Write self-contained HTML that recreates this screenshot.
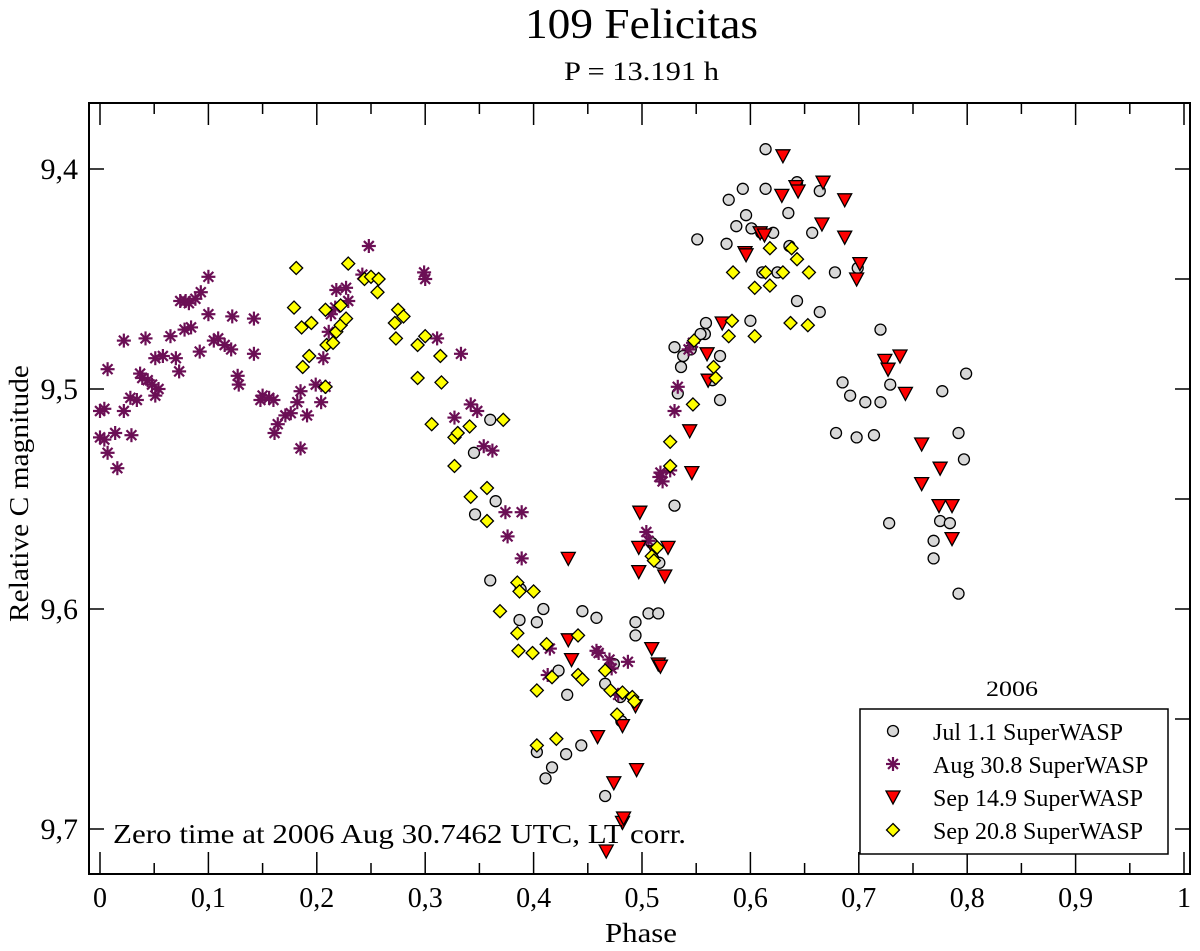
<!DOCTYPE html>
<html><head><meta charset="utf-8"><style>
html,body{margin:0;padding:0;background:#fff;}
svg{display:block;font-family:"Liberation Serif",serif;}
</style></head><body>
<svg id="chart" width="1200" height="951" viewBox="0 0 1200 951" xmlns="http://www.w3.org/2000/svg">
<text x="525" y="38" font-size="42" textLength="233" lengthAdjust="spacingAndGlyphs">109 Felicitas</text>
<text x="564" y="80" font-size="26" textLength="155" lengthAdjust="spacingAndGlyphs">P = 13.191 h</text>
<text transform="translate(28,622) rotate(-90)" font-size="27" textLength="257" lengthAdjust="spacingAndGlyphs">Relative C magnitude</text>
<text x="605" y="942" font-size="27" textLength="72" lengthAdjust="spacingAndGlyphs">Phase</text>
<g id="axes"></g>
<g id="marks"></g>
<text x="113" y="843" font-size="27" textLength="573" lengthAdjust="spacingAndGlyphs">Zero time at 2006 Aug 30.7462 UTC, LT corr.</text>
<text x="986" y="696" font-size="22" textLength="52" lengthAdjust="spacingAndGlyphs">2006</text>
<g id="legend">
<rect x="860" y="709" width="308" height="145" fill="#fff" stroke="#000" stroke-width="1.5"/>
</g>
</svg>
<script>
const xTicks=[0,0.1,0.2,0.3,0.4,0.5,0.6,0.7,0.8,0.9,1];
const xTickLabels=["0","0,1","0,2","0,3","0,4","0,5","0,6","0,7","0,8","0,9","1"];
const yTicks=[9.4,9.5,9.6,9.7];
const yTickLabels=["9,4","9,5","9,6","9,7"];
const seriesNames=["Jul 1.1 SuperWASP","Aug 30.8 SuperWASP","Sep 14.9 SuperWASP","Sep 20.8 SuperWASP"];
const julPhase=[0.614,0.593,0.614,0.643,0.664,0.580,0.621,0.610,0.635,0.587,0.578,0.596,0.601,0.636,0.657,0.625,0.611,0.678,0.699,0.643,0.600,0.664,0.551,0.559,0.558,0.554,0.545,0.572,0.565,0.572,0.720,0.729,0.685,0.692,0.706,0.720,0.777,0.799,0.679,0.698,0.714,0.792,0.797,0.728,0.775,0.784,0.769,0.769,0.792,0.536,0.530,0.538,0.533,0.530,0.516,0.509,0.506,0.515,0.445,0.458,0.360,0.345,0.346,0.365,0.360,0.388,0.387,0.403,0.409,0.403,0.411,0.417,0.430,0.444,0.423,0.431,0.466,0.480,0.474,0.481,0.466,0.494,0.494];
const julMag=[9.391,9.409,9.409,9.406,9.410,9.414,9.429,9.429,9.420,9.426,9.434,9.421,9.427,9.435,9.429,9.447,9.447,9.447,9.445,9.460,9.469,9.465,9.432,9.470,9.475,9.475,9.482,9.485,9.496,9.505,9.473,9.498,9.497,9.503,9.506,9.506,9.501,9.493,9.520,9.522,9.521,9.520,9.532,9.561,9.560,9.561,9.569,9.577,9.593,9.490,9.481,9.485,9.502,9.553,9.579,9.570,9.602,9.602,9.601,9.604,9.514,9.529,9.557,9.551,9.587,9.591,9.605,9.606,9.600,9.665,9.677,9.672,9.666,9.662,9.628,9.639,9.634,9.640,9.625,9.651,9.685,9.612,9.606];
const augPhase=[0.000,0.004,0.000,0.004,0.007,0.014,0.016,0.022,0.022,0.029,0.028,0.034,0.037,0.039,0.042,0.044,0.051,0.048,0.051,0.054,0.058,0.007,0.065,0.070,0.073,0.078,0.074,0.079,0.084,0.082,0.088,0.093,0.100,0.092,0.100,0.105,0.109,0.115,0.121,0.122,0.127,0.128,0.142,0.142,0.148,0.150,0.156,0.160,0.161,0.164,0.171,0.176,0.182,0.185,0.185,0.191,0.199,0.204,0.208,0.211,0.206,0.217,0.213,0.218,0.227,0.229,0.242,0.248,0.299,0.300,0.311,0.333,0.327,0.342,0.348,0.354,0.362,0.374,0.389,0.376,0.389,0.415,0.413,0.458,0.460,0.472,0.478,0.487,0.470,0.504,0.506,0.516,0.517,0.519,0.526,0.530,0.533,0.543,0.547];
const augMag=[9.510,9.509,9.522,9.523,9.529,9.520,9.536,9.510,9.478,9.521,9.504,9.505,9.493,9.495,9.477,9.496,9.503,9.498,9.486,9.500,9.485,9.491,9.476,9.486,9.492,9.473,9.460,9.460,9.472,9.461,9.459,9.456,9.449,9.483,9.466,9.478,9.477,9.480,9.482,9.467,9.494,9.498,9.468,9.484,9.505,9.503,9.504,9.505,9.520,9.516,9.512,9.511,9.506,9.527,9.501,9.512,9.498,9.506,9.499,9.474,9.486,9.463,9.466,9.455,9.454,9.460,9.448,9.435,9.447,9.450,9.477,9.484,9.513,9.507,9.510,9.526,9.528,9.556,9.556,9.567,9.577,9.618,9.630,9.619,9.620,9.627,9.639,9.624,9.623,9.565,9.569,9.540,9.538,9.542,9.537,9.510,9.499,9.482,9.479];
const sep14Phase=[0.630,0.642,0.644,0.629,0.667,0.687,0.609,0.613,0.595,0.596,0.687,0.666,0.701,0.698,0.574,0.560,0.561,0.546,0.544,0.498,0.497,0.497,0.509,0.515,0.494,0.495,0.482,0.482,0.483,0.467,0.474,0.459,0.432,0.432,0.435,0.724,0.727,0.738,0.743,0.758,0.758,0.775,0.774,0.786,0.786,0.512,0.521,0.524,0.517];
const sep14Mag=[9.394,9.408,9.410,9.412,9.406,9.414,9.429,9.430,9.438,9.439,9.431,9.425,9.443,9.450,9.470,9.484,9.496,9.538,9.519,9.556,9.572,9.583,9.618,9.625,9.644,9.673,9.653,9.697,9.695,9.710,9.679,9.658,9.577,9.614,9.623,9.487,9.491,9.485,9.502,9.525,9.543,9.536,9.553,9.553,9.568,9.574,9.585,9.572,9.626];
const sep20Phase=[0.181,0.179,0.186,0.195,0.187,0.193,0.208,0.209,0.208,0.215,0.218,0.222,0.222,0.227,0.229,0.244,0.250,0.257,0.256,0.275,0.280,0.272,0.273,0.293,0.300,0.293,0.314,0.315,0.306,0.327,0.327,0.341,0.330,0.342,0.357,0.357,0.372,0.369,0.385,0.387,0.400,0.385,0.386,0.399,0.412,0.403,0.403,0.421,0.417,0.441,0.441,0.445,0.466,0.471,0.477,0.482,0.491,0.493,0.509,0.511,0.514,0.526,0.526,0.548,0.547,0.568,0.566,0.583,0.580,0.604,0.604,0.618,0.618,0.614,0.630,0.638,0.643,0.637,0.653,0.654,0.584];
const sep20Mag=[9.445,9.463,9.472,9.470,9.490,9.485,9.464,9.480,9.499,9.479,9.474,9.471,9.462,9.468,9.443,9.450,9.449,9.450,9.456,9.464,9.467,9.470,9.477,9.480,9.476,9.495,9.485,9.497,9.516,9.522,9.535,9.517,9.520,9.549,9.545,9.560,9.514,9.601,9.588,9.592,9.592,9.611,9.619,9.620,9.616,9.637,9.662,9.659,9.631,9.612,9.630,9.632,9.628,9.637,9.648,9.638,9.640,9.642,9.576,9.578,9.572,9.524,9.535,9.478,9.507,9.495,9.490,9.469,9.476,9.476,9.454,9.453,9.436,9.447,9.447,9.436,9.441,9.470,9.471,9.447,9.447];

const NS="http://www.w3.org/2000/svg";
const L=89,R=1190,T=103,B=874;
function sx(p){return 100+p*1084;}
function sy(m){return 169+(m-9.4)*2200;}
function mk(tag,attrs,parent){const e=document.createElementNS(NS,tag);for(const k in attrs)e.setAttribute(k,attrs[k]);parent.appendChild(e);return e;}
const axes=document.getElementById('axes');
const marks=document.getElementById('marks');
const frame=mk('rect',{x:L,y:T,width:R-L,height:B-T,fill:'none',stroke:'#000','stroke-width':2},axes);


xTicks.forEach((v,i)=>{
  const x=sx(v);
  const tb=mk('line',{x1:x,x2:x,y1:B,y2:B-22,stroke:'#000','stroke-width':1.5},axes);
  
  
  const tt=mk('line',{x1:x,x2:x,y1:T,y2:T+22,stroke:'#000','stroke-width':1.5},axes);
  
  
  if(i<xTicks.length-1){
    const xm=sx(v+0.05);
    const m1=mk('line',{x1:xm,x2:xm,y1:B,y2:B-11,stroke:'#000','stroke-width':1.5},axes);
    
    
    const m2=mk('line',{x1:xm,x2:xm,y1:T,y2:T+11,stroke:'#000','stroke-width':1.5},axes);
    
    
  }
  const lb=mk('text',{x:x,y:907,'font-size':28,'text-anchor':'middle'},axes);
  lb.textContent=xTickLabels[i];
  
  
});
yTicks.forEach((v,i)=>{
  const y=sy(v);
  const a=mk('line',{x1:L,x2:L+15,y1:y,y2:y,stroke:'#000','stroke-width':1.5},axes);
  
  
  const b=mk('line',{x1:R,x2:R-15,y1:y,y2:y,stroke:'#000','stroke-width':1.5},axes);
  
  
  const ym=sy(v+0.05);
  if(ym<B){
    const c=mk('line',{x1:R,x2:R-15,y1:ym,y2:ym,stroke:'#000','stroke-width':1.5},axes);
    
    
  }
  const lb=mk('text',{x:78,y:y+10,'font-size':30,'text-anchor':'end'},axes);
  lb.textContent=yTickLabels[i];
  
  
});
function circle(x,y,g){return mk('circle',{cx:x,cy:y,r:5.5,fill:'#d8d8d8',stroke:'#000','stroke-width':1.3},g);}
function star(x,y,g){const s=mk('g',{stroke:'#6b0f55','stroke-width':2.2},g);const r=7;
  for(let k=0;k<4;k++){const a=k*Math.PI/4;mk('line',{x1:x-r*Math.cos(a),y1:y-r*Math.sin(a),x2:x+r*Math.cos(a),y2:y+r*Math.sin(a)},s);}return s;}
function tri(x,y,g){return mk('polygon',{points:`${x-7},${y-6} ${x+7},${y-6} ${x},${y+7}`,fill:'#f00',stroke:'#000','stroke-width':1.3},g);}
function dia(x,y,g){return mk('polygon',{points:`${x},${y-6.5} ${x+6.5},${y} ${x},${y+6.5} ${x-6.5},${y}`,fill:'#ff0',stroke:'#000','stroke-width':1.3},g);}
const sets=[[julPhase,julMag,circle,'jul-point'],[augPhase,augMag,star,'aug-point'],[sep14Phase,sep14Mag,tri,'sep14-point'],[sep20Phase,sep20Mag,dia,'sep20-point']];
sets.forEach(([ph,mg,fn,name])=>{
  ph.forEach((p,i)=>{const e=fn(sx(p),sy(mg[i]),marks);
    
    });
});
const legend=document.getElementById('legend');
const fns=[circle,star,tri,dia];
seriesNames.forEach((n,i)=>{
  const y=731+i*33;
  const m=fns[i](893,y,legend);
  
  
  const t=mk('text',{x:933,y:y+9,'font-size':24},legend);
  t.textContent=n;
  
  
});
</script>
</body></html>
